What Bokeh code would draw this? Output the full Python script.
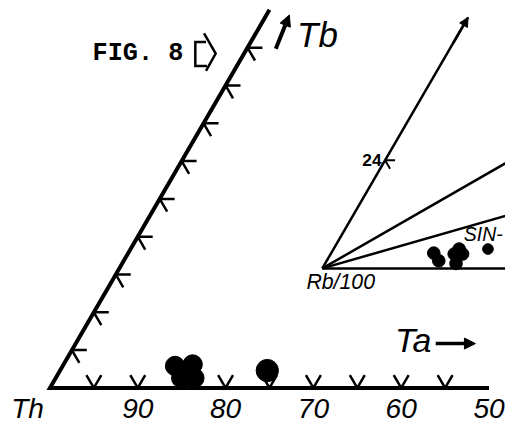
import numpy as np
from bokeh.plotting import figure
from bokeh.models import Range1d, Arrow, NormalHead
from bokeh.core.properties import value
from bokeh.embed import file_html
from bokeh.resources import INLINE

# ---------------- data ----------------
# main ternary Th - Ta - Tb (percent)
th_tick_values = [90, 80, 70, 60, 50]
th_tick_labels = ["90", "80", "70", "60", "50"]
base_ticks_ta = [5, 10, 15, 20, 25, 30, 35, 40, 45]
edge_ticks_tb = [5, 10, 15, 20, 25, 30, 35, 40, 45]
main_ta = [12.8, 14.7, 14.3, 15.8, 14.5, 23.6]
main_tb = [2.9, 3.1, 1.3, 1.3, 2.2, 2.3]

# inset ternary Rb/100 - Ta - Tb (percent)
inset_ray_ta = [0.0, 24.0, 30.0, 36.0]
inset_ray_tb = [55.7, 24.0, 12.0, 0.0]
inset_tick_tb = [24]
inset_tick_labels = ["24"]
inset_ta = [19.6, 21.4, 23.6, 24.0, 25.0, 25.2, 29.5]
inset_tb = [3.4, 1.7, 3.2, 4.3, 1.1, 3.2, 4.3]

# ---------------- geometry ----------------
S60 = np.sqrt(3) / 2
PX = 9.06            # reference pixels per percent of main triangle side
W, H = 505, 425
K = W / 521          # overall scale from reference to figure


def fs(px):
    return f"{px * K:.1f}px"


def tern(ta, tb):
    ta = np.asarray(ta, float)
    tb = np.asarray(tb, float)
    return ta + tb / 2, tb * S60


def pg(px, py):
    # reference-picture position -> data coordinates (for annotations)
    return (px - 51) / PX, (402 - py) / PX


IX0, IY0 = pg(332, 278)   # inset origin (Rb/100 vertex)
IS = 5.4 / PX             # inset scale


def itern(ta, tb):
    x, y = tern(ta, tb)
    return IX0 + IS * x, IY0 + IS * y


p = figure(width=W, height=H,
           x_range=Range1d(pg(0, 0)[0], pg(521, 0)[0]),
           y_range=Range1d(pg(0, 441)[1], pg(0, 0)[1]),
           output_backend="svg", toolbar_location=None, min_border=0,
           x_axis_type=None, y_axis_type=None)
p.grid.visible = False
p.outline_line_color = None
p.background_fill_color = "white"

FONT = value("Liberation Sans")

# ---- main triangle ticks ----
L = 1.7
xs, ys = [], []
for a in base_ticks_ta:
    bx, by = tern(a, 0)
    xs.append([bx - 0.5 * L, bx, bx + 0.5 * L])
    ys.append([by + S60 * L, by, by + S60 * L])
for t in edge_ticks_tb:
    ex, ey = tern(0, t)
    xs.append([ex + L, ex, ex + 0.5 * L])
    ys.append([ey, ey, ey - S60 * L])
p.multi_line(xs, ys, line_color="black", line_width=2.5)

# ---- main triangle edges ----
ex, ey = tern([0, 0, 50], [50, 0, 0])
p.line(ex, ey, line_color="black", line_width=4, line_join="miter")

# ---- main points ----
mx, my = tern(main_ta, main_tb)
p.scatter(mx[:5], my[:5], size=20 * K, fill_color="black", line_color="black")
p.scatter(mx[5:], my[5:], size=23 * K, fill_color="black", line_color="black")

# ---- inset ----
ixs, iys = [], []
for a, b in zip(inset_ray_ta, inset_ray_tb):
    ux, uy = itern([0, a], [0, b])
    ixs.append(list(ux))
    iys.append(list(uy))
p.multi_line(ixs, iys, line_color="black", line_width=2.5)
ax_, ay_ = itern([0, 0], [50, inset_ray_tb[0]])
p.add_layout(Arrow(end=NormalHead(size=9, fill_color="black", line_color="black"),
                   x_start=ax_[0], y_start=ay_[0], x_end=ax_[1], y_end=ay_[1],
                   line_width=2.5, line_color="black"))
Li = 1.9
for t, lab in zip(inset_tick_tb, inset_tick_labels):
    tx, ty = itern(0, t)
    p.multi_line([[tx + Li * IS, tx, tx + 0.5 * Li * IS]],
                 [[ty, ty, ty - S60 * Li * IS]], line_color="black", line_width=2)
    p.text([tx - 0.4], [ty], [lab], text_font=FONT, text_font_size=fs(18),
           text_font_style="bold", text_align="right", text_baseline="middle",
           text_color="black")

ipx, ipy = itern(inset_ta, inset_tb)
p.scatter(ipx[:6], ipy[:6], size=13 * K, fill_color="black", line_color="black")
p.scatter(ipx[6:], ipy[6:], size=11 * K, fill_color="black", line_color="black")

# ---- tick labels on base ----
lx, ly = tern([100 - v for v in th_tick_values], [0] * len(th_tick_values))
p.text(lx, [pg(0, 423)[1]] * len(lx), th_tick_labels, text_font=FONT,
       text_font_style="italic", text_font_size=fs(29), text_align="center",
       text_baseline="middle", text_color="black")


# ---- corner labels ----
def label(px, py, txt, size, align="left", style="italic", font=FONT):
    x, y = pg(px, py)
    p.text([x], [y], [txt], text_font=font, text_font_style=style,
           text_font_size=fs(size), text_align=align, text_baseline="middle",
           text_color="black")


label(11, 423, "Th", 29)
label(306, 35, "Tb", 36)
label(407, 352, "Ta", 35)
label(478, 242, "SIN-", 20)
label(351, 292, "Rb/100", 22, align="center")
label(95, 55, "FIG. 8", 26, style="bold", font=value("Liberation Mono"))

# arrows next to Tb and Ta
a1 = pg(284, 50); a2 = pg(298, 15)
p.add_layout(Arrow(end=NormalHead(size=11, fill_color="black", line_color="black"),
                   x_start=a1[0], y_start=a1[1], x_end=a2[0], y_end=a2[1],
                   line_width=4, line_color="black"))
b1 = pg(449, 356); b2 = pg(490, 356)
p.add_layout(Arrow(end=NormalHead(size=11, fill_color="black", line_color="black"),
                   x_start=b1[0], y_start=b1[1], x_end=b2[0], y_end=b2[1],
                   line_width=3.5, line_color="black"))

# pentagon pointer after FIG. 8
pent = [(212, 43), (201, 43), (201, 68), (213, 68)]
tip = [(210, 34), (222, 55), (212, 73)]
for path in (pent, tip):
    xx = [pg(a, b)[0] for a, b in path]
    yy = [pg(a, b)[1] for a, b in path]
    p.line(xx, yy, line_color="black", line_width=2.5, line_join="miter")

open("out.html", "w").write(file_html(p, INLINE))
